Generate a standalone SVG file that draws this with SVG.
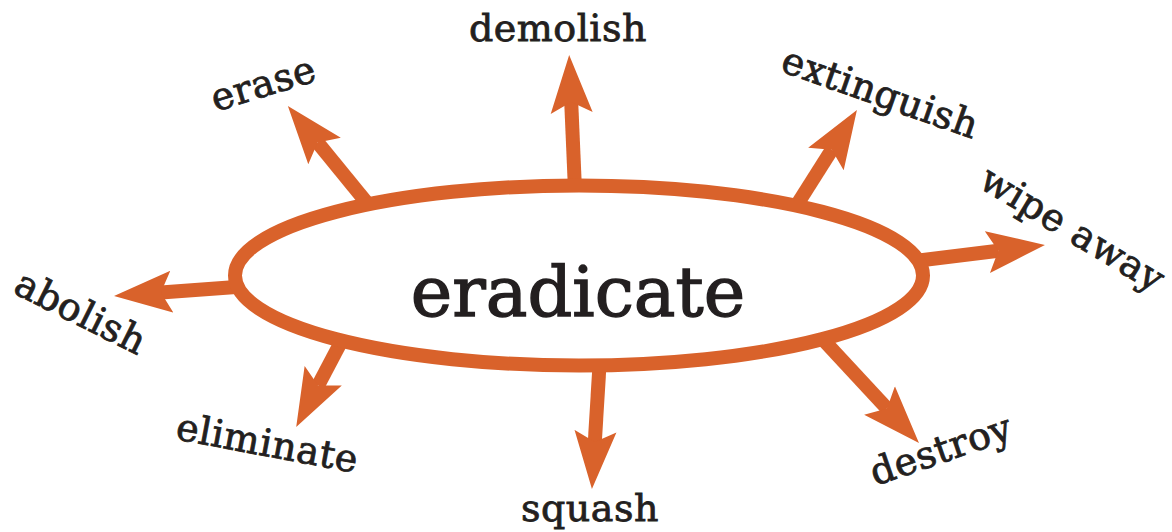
<svg xmlns="http://www.w3.org/2000/svg" width="1172" height="532" viewBox="0 0 1172 532">
<style>
.lbl{font-family:"DejaVu Serif","Liberation Serif",serif;font-size:38px;fill:#231F20;stroke:#231F20;stroke-width:0.8px;text-anchor:middle;letter-spacing:0.5px}
.main{font-family:"DejaVu Serif","Liberation Serif",serif;font-size:70px;fill:#231F20;stroke:#231F20;stroke-width:1.4px;text-anchor:middle}
.conn{stroke:#D9622B;stroke-width:14;fill:none;marker-end:url(#ah)}
</style>
<defs>
<marker id="ah" markerUnits="userSpaceOnUse" markerWidth="60" markerHeight="44" refX="11" refY="22" orient="auto" viewBox="0 0 60 44">
<path d="M58,22 L0,1 L11,22 L0,43 Z" fill="#D9622B"/>
</marker>
</defs>
<rect width="1172" height="532" fill="#ffffff"/>
<g id="connectors">
<line class="conn" x1="575" y1="190" x2="571.2" y2="102"/>
<line class="conn" x1="367" y1="203" x2="317.6" y2="142.5"/>
<line class="conn" x1="795.7" y1="206.8" x2="831.8" y2="149.7"/>
<line class="conn" x1="915" y1="261" x2="998.3" y2="250.7"/>
<line class="conn" x1="243" y1="286.4" x2="160.9" y2="292.5"/>
<line class="conn" x1="341" y1="342" x2="318.1" y2="385.5"/>
<line class="conn" x1="599.5" y1="365" x2="594.8" y2="442.1"/>
<line class="conn" x1="822.5" y1="339" x2="887" y2="408.5"/>
</g>
<g id="eradicate">
<ellipse cx="579" cy="275.5" rx="344" ry="90" fill="#ffffff" stroke="#D9622B" stroke-width="14"/>
<text class="main" x="578" y="316">eradicate</text>
</g>
<g id="demolish"><text class="lbl" x="558" y="41">demolish</text></g>
<g id="erase"><text class="lbl" transform="translate(267,96) rotate(-17)">erase</text></g>
<g id="extinguish"><text class="lbl" transform="translate(876,105) rotate(19.4)">extinguish</text></g>
<g id="wipe-away"><text class="lbl" transform="translate(1066,240) rotate(31)">wipe away</text></g>
<g id="abolish"><text class="lbl" transform="translate(75,324) rotate(26.6)">abolish</text></g>
<g id="eliminate"><text class="lbl" transform="translate(265,456) rotate(10.6)">eliminate</text></g>
<g id="squash"><text class="lbl" x="590" y="521">squash</text></g>
<g id="destroy"><text class="lbl" transform="translate(945,462) rotate(-19)">destroy</text></g>
</svg>
